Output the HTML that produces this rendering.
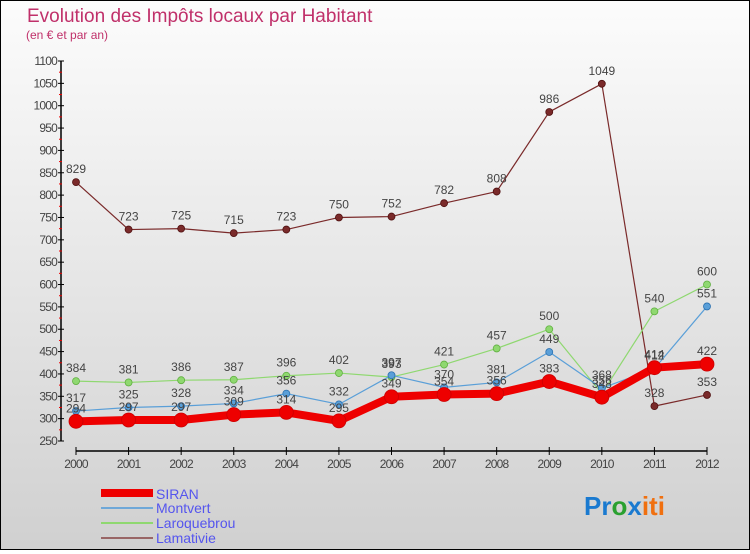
<!DOCTYPE html>
<html><head><meta charset="utf-8"><style>
html,body{margin:0;padding:0}
body{width:750px;height:550px;overflow:hidden;font-family:"Liberation Sans",sans-serif}
#wrap{position:relative;width:748px;height:548px;border:1px solid #000;background:linear-gradient(#fcfcfc,#e2e2e2 60%,#d0d0d0)}
</style></head><body>
<div id="wrap">
<svg id="chart" width="748" height="548" font-family="Liberation Sans, sans-serif">
<text x="26" y="21" font-size="19" fill="#c0306a">Evolution des Impôts locaux par Habitant</text>
<text x="25" y="38" font-size="12" fill="#c0306a">(en € et par an)</text>
<g id="axes"></g><g id="series"></g>
<g>
<rect x="100" y="488" width="52" height="8" fill="#e00"/>
<text x="155" y="498" font-size="14" fill="#5555ee">SIRAN</text>
<line x1="100" y1="507" x2="152" y2="507" stroke="#6fa8d8" stroke-width="2"/>
<text x="155" y="512" font-size="14" fill="#5555ee">Montvert</text>
<line x1="100" y1="522" x2="152" y2="522" stroke="#8fd870" stroke-width="2"/>
<text x="155" y="527" font-size="14" fill="#5555ee">Laroquebrou</text>
<line x1="100" y1="537" x2="152" y2="537" stroke="#996666" stroke-width="2"/>
<text x="155" y="542" font-size="14" fill="#5555ee">Lamativie</text>
</g>
<text x="583" y="514" font-size="26" font-weight="bold"><tspan fill="#1a7ad0">Pr</tspan><tspan fill="#2aa030">o</tspan><tspan fill="#1a7ad0">x</tspan><tspan fill="#f07010">iti</tspan></text>
</svg></div>
<script>
const years=[2000,2001,2002,2003,2004,2005,2006,2007,2008,2009,2010,2011,2012];
const yTicks=[250,300,350,400,450,500,550,600,650,700,750,800,850,900,950,1000,1050,1100];
const siran=[294,297,297,309,314,295,349,354,356,383,348,414,422];
const montvert=[317,325,328,334,356,332,397,370,381,449,368,412,551];
const laroquebrou=[384,381,386,387,396,402,393,421,457,500,356,540,600];
const lamativie=[829,723,725,715,723,750,752,782,808,986,1049,328,353];
const NS="http://www.w3.org/2000/svg";
const X=i=>75+i*(706-75)/(years.length-1);
const Y=v=>440-(v-250)*380/850;
function mk(t,a,p){const e=document.createElementNS(NS,t);for(const k in a)e.setAttribute(k,a[k]);p.appendChild(e);return e;}
const ax=document.getElementById('axes');
let yl=mk('line',{x1:60,y1:Y(1100),x2:60,y2:Y(250),stroke:'#000','stroke-width':1.5},ax);


yTicks.forEach((t,k)=>{
 mk('line',{x1:57,y1:Y(t),x2:63,y2:Y(t),stroke:'#000'},ax);
 if(k<yTicks.length-1) mk('line',{x1:58,y1:Y(t+25),x2:61,y2:Y(t+25),stroke:'#e00'},ax);
 const tx=mk('text',{x:56,y:Y(t)+4,'font-size':12,'text-anchor':'end',fill:'#444','letter-spacing':'-0.8'},ax);
 tx.textContent=t;
 
 
});
let xl=mk('line',{x1:75,y1:450,x2:706,y2:450,stroke:'#000','stroke-width':1.5},ax);


years.forEach((y,i)=>{
 mk('line',{x1:X(i),y1:446,x2:X(i),y2:454,stroke:'#000'},ax);
 const tx=mk('text',{x:X(i),y:467,'font-size':12,'text-anchor':'middle',fill:'#444','letter-spacing':'-0.8'},ax);
 tx.textContent=y;
 
 
});
const sg=document.getElementById('series');
function draw(vals,color,w,r,name,dotStroke){
 const g=mk('g',{},sg);
 
 
 mk('polyline',{points:vals.map((v,i)=>X(i)+','+Y(v)).join(' '),fill:'none',stroke:color,'stroke-width':w,'stroke-linejoin':'round'},g);
 vals.forEach((v,i)=>{
  const c=mk('circle',{cx:X(i),cy:Y(v),r:r,fill:color,stroke:dotStroke,'stroke-width':0.8},g);
  
  
  const t=mk('text',{x:X(i),y:Y(v)-9,'font-size':12,'text-anchor':'middle',fill:'#444'},g);
  t.textContent=v;
  
  
 });
}
draw(lamativie,'#7a2a2a',1.2,3.5,'lamativie','#501010');
draw(laroquebrou,'#8fd870',1.2,3.5,'laroquebrou','#60b040');
draw(montvert,'#5a9fd8',1.2,3.5,'montvert','#2a70b0');
draw(siran,'#ee0000',8,7,'siran','#cc0000');
</script>
</body></html>
